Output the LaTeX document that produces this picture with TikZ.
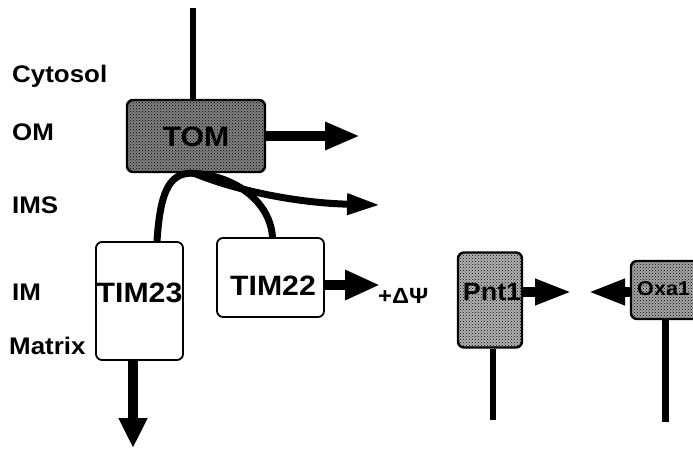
\documentclass[tikz,border=0pt]{standalone}
\usepackage{fontspec}
\setmainfont{Liberation Sans}[FakeStretch=1.08]
\usetikzlibrary{arrows.meta,patterns}
\begin{document}
\begin{tikzpicture}[x=1pt,y=-1pt,
  lbl/.style={font=\bfseries\fontsize{24}{24}\selectfont, anchor=base west, inner sep=0pt},
  boxw/.style={draw, line width=1.8pt, rounded corners=6pt, fill=white, inner sep=0pt},
  boxs/.style={draw, line width=2.4pt, rounded corners=6pt, inner sep=0pt,
    postaction={pattern=crosshatch dots, pattern color=black}},
  btxt/.style={font=\bfseries\fontsize{28}{28}\selectfont, inner sep=0pt},
  conn/.style={line width=7pt},
  fat/.style={line width=10pt, -{Triangle[length=35pt,width=26pt]}},
]
\useasboundingbox (0,0) rectangle (693,449);
\clip (0,0) rectangle (693,449);

% boxes
\node[boxs, fill=black!50, minimum width=138pt, minimum height=72pt] (tom) at (196,136) {};
\node[boxw, minimum width=87pt, minimum height=118pt] (tim23) at (139.5,301) {};
\node[boxw, minimum width=107pt, minimum height=79pt] (tim22) at (270.5,277.5) {};
\node[boxs, fill=black!30, minimum width=64pt, minimum height=95pt] (pnt1) at (490,300) {};
\node[boxs, fill=black!35, minimum width=68pt, minimum height=58pt] (oxa1) at (665,290) {};

% box texts
\node[btxt] (tomt) at (196,137) {TOM};
\node[btxt] (tim23t) at (139.5,293) {TIM23};
\node[btxt] (tim22t) at (273,286) {TIM22};
\node[btxt, font=\bfseries\fontsize{25}{25}\selectfont] (pnt1t) at (492,292) {Pnt1};
\node[btxt, font=\bfseries\fontsize{20}{20}\selectfont, anchor=west] (oxa1t) at (637,289) {Oxa1};

% free ends
\coordinate (top) at (193,8);
\coordinate (tomend) at (360,136);
\coordinate (imsend) at (380,205);
\coordinate (dpsiend) at (380,285);
\coordinate (matend) at (133,448);
\coordinate (pntend) at (572,292);
\coordinate (oxaend) at (588,292);
\coordinate (pntbot) at (493,420);
\coordinate (oxabot) at (665,422);

% connectors
\draw[line width=6.5pt] (top) -- (top |- tom.north);
\draw[fat] (tom.east) -- (tomend);
\draw[conn] ([xshift=17.5pt]tim23.north) .. controls (160,195) and (168,174) .. ([xshift=-6pt]tom.south)
  .. controls (232,174) and (270,200) .. ([xshift=2pt]tim22.north);
\draw[conn, -{Triangle[length=33pt,width=20pt]}] ([xshift=-2pt]tom.south) .. controls (240,192) and (300,203) .. (imsend);
\draw[fat, -{Triangle[length=35pt,width=28pt]}] ([yshift=-7.5pt]tim22.east) -- (dpsiend);
\draw[fat, -{Triangle[length=30pt,width=27pt]}] ([xshift=-6.5pt]tim23.south) -- (matend);
\draw[fat, -{Triangle[length=37pt,width=24pt]}] ([yshift=8pt]pnt1.east) -- (pntend);
\draw[fat, -{Triangle[length=37pt,width=24pt]}] ([yshift=-2pt]oxa1.west) -- (oxaend);
\draw[line width=6.5pt] ([xshift=3pt]pnt1.south) -- (pntbot);
\draw[line width=7pt] (oxa1.south) -- (oxabot);

% labels
\node[lbl] (cyt) at (12,83) {Cytosol};
\node[lbl] (om) at (12,141) {OM};
\node[lbl] (ims) at (12,214) {IMS};
\node[lbl] (im) at (12,300) {IM};
\node[lbl] (mat) at (9,354) {Matrix};
\node[lbl, font=\bfseries\fontsize{22}{22}\selectfont] (dpsi) at (378,303) {+ΔΨ};
\end{tikzpicture}
\end{document}
